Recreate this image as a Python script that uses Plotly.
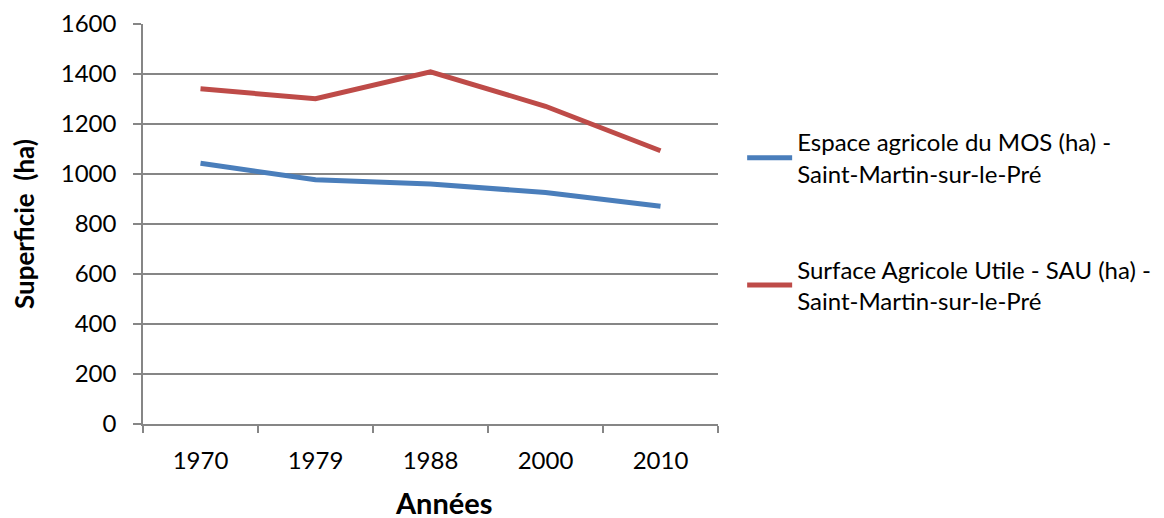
import plotly.graph_objects as go

years = ["1970", "1979", "1988", "2000", "2010"]
mos = [1043, 977, 960, 926, 871]
sau = [1341, 1301, 1409, 1271, 1093]
name_mos = "Espace agricole du MOS (ha) -<br>Saint-Martin-sur-le-Pré"
name_sau = "Surface Agricole Utile - SAU (ha) -<br>Saint-Martin-sur-le-Pré"
x_title = "Années"
y_title = "Superficie  (ha)"

FONT = "Lato"
fig = go.Figure()
fig.add_trace(go.Scatter(x=years, y=mos, mode="lines", name=name_mos, legendgroup="a",
                         line=dict(color="#4a7ebb", width=5)))
fig.add_trace(go.Scatter(x=years, y=sau, mode="lines", name=name_sau, legendgroup="b",
                         line=dict(color="#be4b48", width=5)))

# the page body adds an 8px offset, margins compensate
fig.update_layout(
    width=1164, height=518,
    margin=dict(l=135, r=454, t=16, b=102),
    paper_bgcolor="white", plot_bgcolor="white",
    font=dict(family=FONT, size=24, color="#000000"),
    showlegend=True,
    legend=dict(x=1.042, y=0.76, xanchor="left", yanchor="top",
                font=dict(size=24), tracegroupgap=62, valign="middle", itemwidth=45,
                bgcolor="rgba(0,0,0,0)"),
)
fig.add_annotation(text=f"<b>{x_title}</b>", xref="paper", yref="paper",
                   x=0.523, y=-0.195, xanchor="center", yanchor="middle",
                   showarrow=False, font=dict(size=29, family=FONT, color="#000000"))
fig.update_xaxes(
    type="category", range=[-0.5, 4.5], automargin=False,
    showline=True, linecolor="#868686", linewidth=1.5,
    ticks="outside", tickson="boundaries", ticklen=7, tickcolor="#868686", tickwidth=1.5,
    showgrid=False, tickfont=dict(size=24), ticklabelstandoff=14,
)
fig.update_yaxes(
    range=[0, 1600], dtick=200, automargin=False,
    showline=True, linecolor="#868686", linewidth=1.5,
    ticks="outside", ticklen=8, tickcolor="#868686", tickwidth=1.5,
    showgrid=True, gridcolor="#868686", gridwidth=1.5,
    zeroline=False, tickfont=dict(size=24), ticklabelstandoff=12,
    title=dict(text=f"<b>{y_title}</b>", font=dict(size=26), standoff=28),
)
fig.write_html("out.html")
